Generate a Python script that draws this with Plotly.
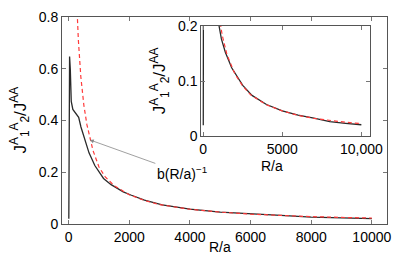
import plotly.graph_objects as go

# ---- data ----
R_black = [5, 30, 54, 85, 138, 224, 330, 405, 543, 671, 863, 1000, 1150, 1400,
           1800, 2050, 2500, 3085, 4000, 5000, 6000, 7000, 8000, 9000, 10000]
J_black = [0.02, 0.647, 0.598, 0.474, 0.443, 0.430, 0.412, 0.375, 0.325, 0.275,
           0.226, 0.200, 0.176, 0.152, 0.124, 0.112, 0.092, 0.074, 0.0576, 0.046,
           0.0385, 0.033, 0.0265, 0.0235, 0.021]

R_fit = [250, 280, 320, 400, 500, 600, 700, 800, 1000, 1200, 1500, 2000, 2500,
         3000, 4000, 5000, 6000, 7000, 8000, 9000, 10000]
J_fit = [0.90, 0.80, 0.71, 0.57, 0.46, 0.385, 0.33, 0.285, 0.220, 0.183, 0.148,
         0.113, 0.091, 0.075, 0.057, 0.046, 0.038, 0.0325, 0.0285, 0.0255, 0.023]

main_xticks = [0, 2000, 4000, 6000, 8000, 10000]
main_xticklabels = ["0", "2000", "4000", "6000", "8000", "10000"]
main_yticks = [0, 0.2, 0.4, 0.6, 0.8]
main_yticklabels = ["0", "0.2", "0.4", "0.6", "0.8"]
inset_xticks = [0, 5000, 10000]
inset_xticklabels = ["0", "5000", "10,000"]
inset_yticks = [0, 0.1, 0.2]
inset_yticklabels = ["0", "0.1", "0.2"]

ylabel = "J<sup>A</sup><sub>1</sub><sup>A</sup><sub>2</sub>/J<sup>AA</sup>"
xlabel = "R/a"

FONT = "Liberation Sans, Arial, sans-serif"
BLACK = "#2a2a2a"
RED = "#ff3a3a"
DASH = "4px,3px"

fig = go.Figure()
# main plot
fig.add_trace(go.Scatter(x=R_black, y=J_black, mode="lines",
                         line=dict(color=BLACK, width=1.3), xaxis="x", yaxis="y"))
fig.add_trace(go.Scatter(x=R_fit, y=J_fit, mode="lines",
                         line=dict(color=RED, width=1.2, dash=DASH), xaxis="x", yaxis="y"))
# inset
fig.add_trace(go.Scatter(x=R_black, y=J_black, mode="lines",
                         line=dict(color=BLACK, width=1.3), xaxis="x2", yaxis="y2"))
fig.add_trace(go.Scatter(x=R_fit, y=J_fit, mode="lines",
                         line=dict(color=RED, width=1.2, dash=DASH), xaxis="x2", yaxis="y2"))

axis_common = dict(showline=True, linecolor="#555555", linewidth=1, mirror="ticks",
                   ticks="inside", ticklen=4, tickcolor="#777777", tickwidth=1,
                   showgrid=False, zeroline=False,
                   tickfont=dict(family=FONT, size=14, color="black"))

fig.update_layout(
    width=409, height=258,
    margin=dict(l=62, r=11, t=9, b=34),
    paper_bgcolor="white", plot_bgcolor="white",
    showlegend=False,
    font=dict(family=FONT, size=14, color="black"),
    xaxis=dict(domain=[0, 1], range=[-220, 10500], anchor="y",
               tickvals=main_xticks, ticktext=main_xticklabels, **axis_common),
    yaxis=dict(domain=[0, 1], range=[0, 0.8], anchor="x",
               tickvals=main_yticks, ticktext=main_yticklabels, **axis_common),
    xaxis2=dict(domain=[0.4286, 0.9464], range=[-120, 10520], anchor="y2",
                tickvals=inset_xticks, ticktext=inset_xticklabels, **axis_common),
    yaxis2=dict(domain=[0.4233, 0.9581], range=[0, 0.2], anchor="x2",
                tickvals=inset_yticks, ticktext=inset_yticklabels, **axis_common),
)

# axis titles as annotations
fig.add_annotation(text=xlabel, xref="paper", yref="paper", x=0.485, y=0,
                   yshift=-23, yanchor="middle", showarrow=False,
                   font=dict(family=FONT, size=14, color="black"))
fig.add_annotation(text=ylabel, xref="paper", yref="paper", x=0, y=0.5,
                   xshift=-42, xanchor="center", yanchor="middle", textangle=-90,
                   showarrow=False, font=dict(family=FONT, size=17, color="black"))
fig.add_annotation(text=xlabel, xref="paper", yref="paper", x=0.6875, y=0.4233,
                   yshift=-30, yanchor="middle", showarrow=False,
                   font=dict(family=FONT, size=14, color="black"))
fig.add_annotation(text=ylabel, xref="paper", yref="paper", x=0.4286, y=0.6907,
                   xshift=-42, xanchor="center", yanchor="middle", textangle=-90,
                   showarrow=False, font=dict(family=FONT, size=17, color="black"))

# arrow annotation
fig.add_annotation(text="b(R/a)<sup>−1</sup>", x=698, y=0.325, xref="x", yref="y",
                   ax=92, ay=33, showarrow=True, arrowhead=2, arrowsize=1,
                   arrowwidth=0.8, arrowcolor="#888888",
                   font=dict(family=FONT, size=14, color="black"))

fig.write_html("out.html", config={"displayModeBar": False},
               post_script="document.body.style.margin='0px';document.body.style.overflow='hidden';")
